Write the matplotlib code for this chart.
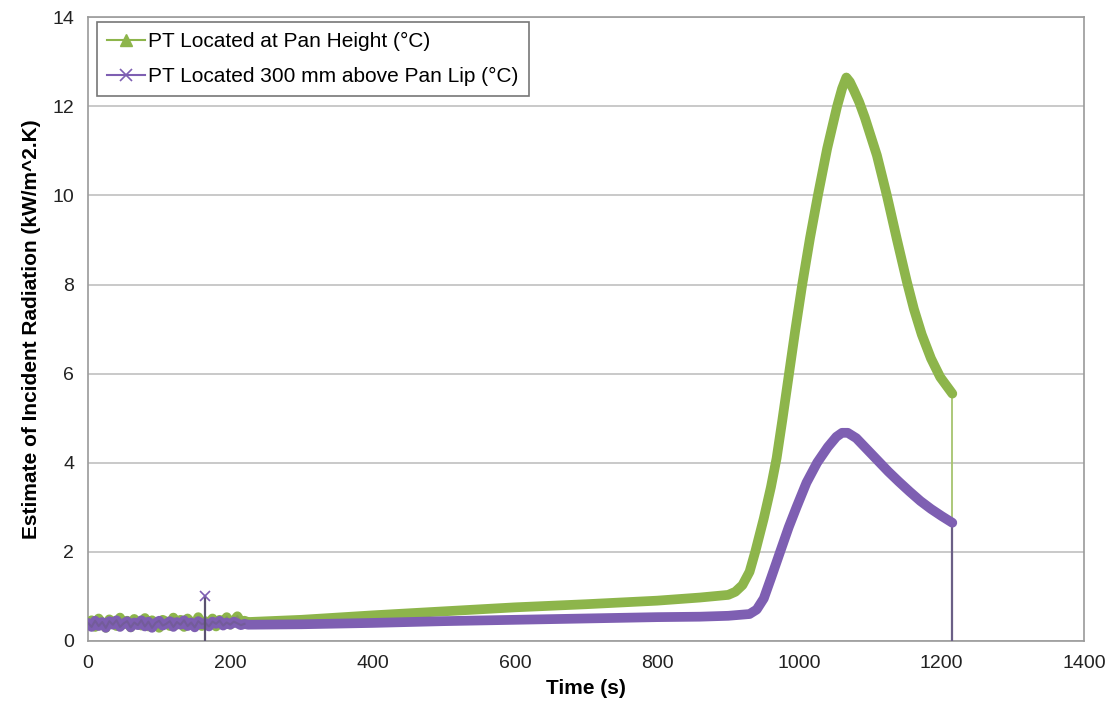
"""
Estimate of incident radiation for the two plate thermometers.
"""

import matplotlib
matplotlib.use("Agg")
import matplotlib.pyplot as plt
from matplotlib.lines import Line2D

plt.rcParams["font.family"] = ["Liberation Sans", "DejaVu Sans"]

# --------------------------------------------------
# DATA
# --------------------------------------------------
# noisy start, every 5 s from 0 to 220 s
noise_time = list(range(0, 225, 5))
green_noise = [0.35, 0.46, 0.31, 0.50, 0.38, 0.29, 0.48, 0.42, 0.33, 0.52,
               0.37, 0.45, 0.30, 0.49, 0.40, 0.34, 0.51, 0.32, 0.46, 0.39,
               0.29, 0.47, 0.43, 0.33, 0.52, 0.36, 0.47, 0.31, 0.50, 0.41,
               0.35, 0.53, 0.33, 0.44, 0.38, 0.50, 0.32, 0.47, 0.40, 0.53,
               0.36, 0.45, 0.55, 0.42, 0.45]
purple_noise = [0.40, 0.31, 0.45, 0.33, 0.42, 0.29, 0.44, 0.36, 0.46, 0.31,
                0.39, 0.44, 0.30, 0.41, 0.35, 0.46, 0.32, 0.43, 0.29, 0.40,
                0.45, 0.34, 0.38, 0.44, 0.31, 0.42, 0.36, 0.46, 0.33, 0.41,
                0.30, 0.44, 0.37, 0.40, 0.32, 0.43, 0.38, 0.45, 0.34, 0.41,
                0.36, 0.43, 0.39, 0.35, 0.38]

# smooth part after the noisy start
green_time = [225, 300, 400, 500, 600, 700, 800, 860, 900, 910, 920, 930,
              938, 950, 960, 968, 976, 985, 994, 1004, 1015, 1026, 1039,
              1053, 1060, 1066, 1071, 1077, 1084, 1092, 1100, 1109, 1123,
              1137, 1151, 1161, 1172, 1185, 1198, 1215]
green_vals = [0.42, 0.47, 0.57, 0.66, 0.75, 0.82, 0.90, 0.97, 1.03, 1.10,
              1.25, 1.55, 2.00, 2.75, 3.45, 4.10, 4.95, 5.95, 6.95, 8.00,
              9.05, 10.00, 11.05, 12.00, 12.40, 12.65, 12.55, 12.35, 12.10,
              11.75, 11.35, 10.90, 10.00, 9.02, 8.07, 7.45, 6.88, 6.34,
              5.92, 5.55]

purple_time = [225, 300, 400, 500, 600, 700, 800, 860, 900, 930, 940, 950,
               960, 973, 985, 996, 1010, 1025, 1040, 1052, 1060, 1068, 1080,
               1095, 1110, 1125, 1140, 1155, 1170, 1185, 1200, 1215]
purple_vals = [0.36, 0.37, 0.40, 0.44, 0.47, 0.50, 0.53, 0.54, 0.56, 0.60,
               0.70, 0.95, 1.40, 2.00, 2.55, 3.00, 3.55, 4.00, 4.35, 4.58,
               4.67, 4.67, 4.55, 4.30, 4.05, 3.80, 3.57, 3.35, 3.14, 2.96,
               2.80, 2.65]

# single spike in the purple series and the final drop to zero
spike_time = [164, 164]
spike_vals = [1.0, 0.0]
end_time = 1215
end_val = 0.0

GREEN = "#8db54b"
PURPLE = "#7e5fb2"

# --------------------------------------------------
# PLOT
# --------------------------------------------------
fig = plt.figure(figsize=(11.14, 7.24), dpi=100)
ax = fig.add_axes([0.079, 0.115, 0.894, 0.861])

lw = 7
# final thin drops
ax.plot([green_time[-1], end_time], [green_vals[-1], end_val], color="#a6c46e", lw=1.3, zorder=2)
ax.plot([purple_time[-1], end_time], [purple_vals[-1], end_val], color="#6b5f86", lw=1.6, zorder=3)

ax.plot(noise_time + green_time, green_noise + green_vals, color=GREEN, lw=lw,
        solid_joinstyle="round", solid_capstyle="round", zorder=4)
ax.plot(noise_time, green_noise, color="#7f8a66", lw=1.5, alpha=0.6, zorder=4)
ax.plot(noise_time + purple_time, purple_noise + purple_vals, color=PURPLE, lw=lw,
        solid_joinstyle="round", solid_capstyle="round", zorder=5)
ax.plot(noise_time, purple_noise, color="#6c5a8a", lw=1.5, alpha=0.6, zorder=5)
ax.plot(spike_time, spike_vals, color="#5a5270", lw=1.6, zorder=6)
ax.plot(spike_time[0], spike_vals[0], marker="x", color=PURPLE, ms=7, mew=1.2, zorder=6)

ax.set_xlim(0, 1400)
ax.set_ylim(0, 14)
ax.set_xticks(range(0, 1401, 200))
ax.set_yticks(range(0, 15, 2))
ax.tick_params(length=0, labelsize=14, colors="#222222", pad=10)
ax.grid(axis="y", color="#c0c0c0", lw=1.2)
ax.set_axisbelow(True)
for s in ax.spines.values():
    s.set_color("#9a9a9a")
    s.set_linewidth(1.2)

ax.set_xlabel("Time (s)", fontsize=15, fontweight="bold", labelpad=5)
ax.set_ylabel("Estimate of Incident Radiation (kW/m^2.K)", fontsize=15,
              fontweight="bold", labelpad=8)

handles = [
    Line2D([], [], color=GREEN, lw=1.5, marker="^", ms=8),
    Line2D([], [], color=PURPLE, lw=1.5, marker="x", ms=8, mew=1.2),
]
leg = ax.legend(handles, ["PT Located at Pan Height (\u00b0C)",
                          "PT Located 300 mm above Pan Lip (\u00b0C)"],
                loc="upper left", bbox_to_anchor=(0.009, 0.993), borderaxespad=0,
                fontsize=15, frameon=True, fancybox=False, handlelength=1.8,
                handletextpad=0.15, borderpad=0.5, labelspacing=0.75)
leg.get_frame().set_edgecolor("#555555")
leg.get_frame().set_linewidth(1.2)

plt.savefig("out.png", dpi=100)
